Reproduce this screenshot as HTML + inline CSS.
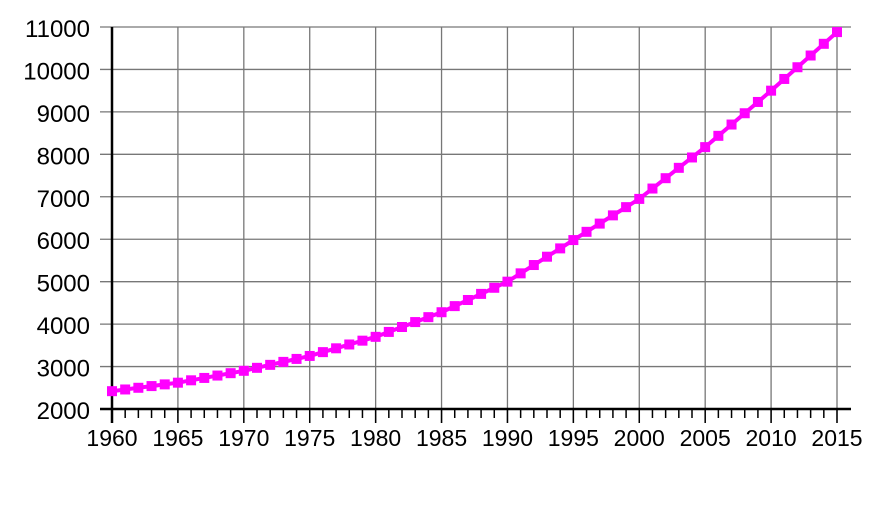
<!DOCTYPE html>
<html><head><meta charset="utf-8"><style>
body{margin:0;background:#fff;}
svg{display:block;font-family:"Liberation Sans",sans-serif;}
</style></head><body>
<svg id="s" width="872" height="512" xmlns="http://www.w3.org/2000/svg"></svg>
<script>
const s=document.getElementById('s');
const X=y=>112+(y-1960)*725/55, Y=v=>409-(v-2000)*382/9000;
let h='';
for(let v=3000;v<=11000;v+=1000){h+=`<line x1="100" x2="851" y1="${Y(v)}" y2="${Y(v)}" stroke="#777" stroke-width="1.3"/>`;}
for(let y=1965;y<=2015;y+=5){h+=`<line x1="${X(y)}" x2="${X(y)}" y1="27" y2="423" stroke="#777" stroke-width="1.3"/>`;}
for(let y=1960;y<=2015;y++){h+=`<line x1="${X(y)}" x2="${X(y)}" y1="409" y2="${y%5?418:423}" stroke="#000" stroke-width="1.5"/>`;}
h+=`<line x1="112" x2="112" y1="27" y2="423" stroke="#000" stroke-width="2.5"/>`;
h+=`<line x1="100" x2="851" y1="409" y2="409" stroke="#000" stroke-width="2.5"/>`;
for(let v=2000;v<=11000;v+=1000){h+=`<text x="90" y="${Y(v)+10}" font-size="24" text-anchor="end">${v}</text>`;}
for(let y=1960;y<=2015;y+=5){h+=`<text x="${X(y)}" y="446" font-size="23" text-anchor="middle">${y}</text>`;}
const k=[2420,2620,2900,3250,3700,4280,5000,5980,6950,8170,9500,10880];
let pts=[];
for(let y=1960;y<=2015;y++){const i=Math.min(Math.floor((y-1960)/5),10),t=(y-1960-i*5)/5;const v=k[i]+(k[i+1]-k[i])*t;pts.push([X(y),Y(v)]);}
h+=`<polyline points="${pts.map(p=>p.join(',')).join(' ')}" fill="none" stroke="#f0f" stroke-width="4"/>`;
pts.forEach(p=>{h+=`<rect x="${p[0]-5}" y="${p[1]-5}" width="10" height="10" fill="#f0f"/>`;});
s.innerHTML=h;
</script>
</body></html>
